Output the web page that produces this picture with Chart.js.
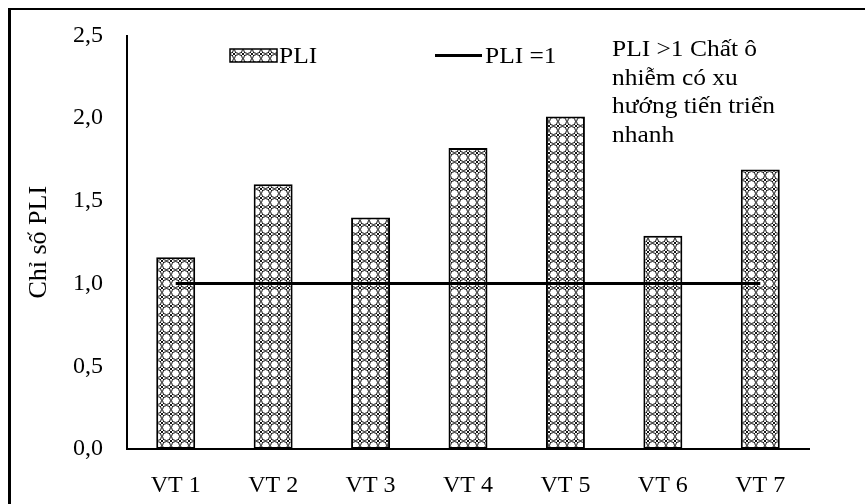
<!DOCTYPE html>
<html lang="vi">
<head>
    <meta charset="UTF-8">
    <title>Chỉ số PLI</title>
    <script src="https://cdn.jsdelivr.net/npm/chart.js"></script>
    <style>
        body {
            margin: 0;
            width: 865px;
            height: 504px;
            overflow: hidden;
            background: #fff;
            position: relative;
        }
        .frame {
            position: absolute;
            left: 8px;
            top: 8px;
            width: 1000px;
            height: 1000px;
            border-left: 3px solid #000;
            border-top: 2px solid #000;
        }
        canvas {
            position: absolute;
            left: 0;
            top: 0;
        }
    </style>
</head>
<body>
    <div class="frame"></div>
    <canvas id="pliChart" width="865" height="504"></canvas>

    <script>
        // data
        const categories = ['VT 1', 'VT 2', 'VT 3', 'VT 4', 'VT 5', 'VT 6', 'VT 7'];
        const pliValues = [1.16, 1.60, 1.40, 1.82, 2.01, 1.29, 1.69];
        const thresholdValues = [1, 1, 1, 1, 1, 1, 1];
        const yMin = 0, yMax = 2.5, yStep = 0.5;
        const noteLines = ['PLI >1 Chất ô', 'nhiễm có xu', 'hướng tiến triển', 'nhanh'];

        const serif = "'Liberation Serif', 'Times New Roman', serif";

        // hatch pattern like the Excel fill
        function makePattern() {
            const c = document.createElement('canvas');
            c.width = 9; c.height = 9;
            const g = c.getContext('2d');
            g.fillStyle = '#fff';
            g.fillRect(0, 0, 9, 9);
            g.strokeStyle = '#111';
            g.lineWidth = 1;
            g.beginPath();
            g.arc(4.5, 4.5, 4, 0, Math.PI * 2);
            g.stroke();
            g.beginPath();
            g.moveTo(0, 0); g.lineTo(2, 2);
            g.moveTo(9, 0); g.lineTo(7, 2);
            g.moveTo(0, 9); g.lineTo(2, 7);
            g.moveTo(9, 9); g.lineTo(7, 7);
            g.stroke();
            return g.createPattern(c, 'repeat');
        }
        const hatch = makePattern();

        // legend + note text drawn on top
        const legendNote = {
            id: 'legendNote',
            afterDraw(chart) {
                const g = chart.ctx;
                g.save();
                g.textBaseline = 'alphabetic';

                // PLI box
                g.fillStyle = hatch;
                g.fillRect(230, 49, 47, 13);
                g.strokeStyle = '#000';
                g.lineWidth = 1.5;
                g.strokeRect(230, 49, 47, 13);

                // PLI = 1 line
                g.lineWidth = 3;
                g.beginPath();
                g.moveTo(435, 55.5);
                g.lineTo(482, 55.5);
                g.stroke();

                g.fillStyle = '#000';
                g.font = '24px ' + serif;
                // text a bit wider than tall, like the source picture
                const wide = (t, x, y) => {
                    g.save();
                    g.translate(x, y);
                    g.scale(1.06, 1);
                    g.fillText(t, 0, 0);
                    g.restore();
                };
                wide('PLI', 279, 63);
                wide('PLI =1', 485, 63);
                noteLines.forEach((t, i) => wide(t, 612, 56 + i * 28.7));
                g.restore();
            }
        };

        const ctx = document.getElementById('pliChart').getContext('2d');
        const pliChart = new Chart(ctx, {
            data: {
                labels: categories,
                datasets: [
                    {
                        type: 'line',
                        label: 'PLI =1',
                        data: thresholdValues,
                        borderColor: '#000',
                        borderWidth: 3,
                        pointRadius: 0,
                        fill: false,
                        order: 0
                    },
                    {
                        type: 'bar',
                        label: 'PLI',
                        data: pliValues,
                        backgroundColor: hatch,
                        borderColor: '#000',
                        borderWidth: 2,
                        borderSkipped: false,
                        barPercentage: 0.4,
                        categoryPercentage: 1,
                        order: 1
                    }
                ]
            },
            options: {
                responsive: false,
                animation: false,
                layout: { padding: { left: 0, right: 56, top: 0, bottom: 0 } },
                plugins: {
                    legend: { display: false },
                    tooltip: { enabled: false }
                },
                scales: {
                    x: {
                        grid: { display: false, drawTicks: false },
                        border: { display: true, color: '#000', width: 2 },
                        ticks: {
                            color: '#000',
                            font: { family: serif, size: 24 },
                            padding: 22
                        },
                        afterFit(scale) { scale.height = 55; }
                    },
                    y: {
                        min: yMin,
                        max: yMax,
                        grid: { display: false, drawTicks: false },
                        border: { display: true, color: '#000', width: 2 },
                        ticks: {
                            stepSize: yStep,
                            color: '#000',
                            font: { family: serif, size: 24 },
                            padding: 24,
                            callback: v => v.toFixed(1).replace('.', ',')
                        },
                        title: {
                            display: true,
                            text: 'Chỉ số PLI',
                            color: '#000',
                            font: { family: serif, size: 26 },
                            padding: { top: 24, bottom: 0 }
                        },
                        afterFit(scale) {
                            scale.width = 127;
                            scale.paddingTop = 35.5;
                        }
                    }
                }
            },
            plugins: [legendNote]
        });
    </script>
</body>
</html>
